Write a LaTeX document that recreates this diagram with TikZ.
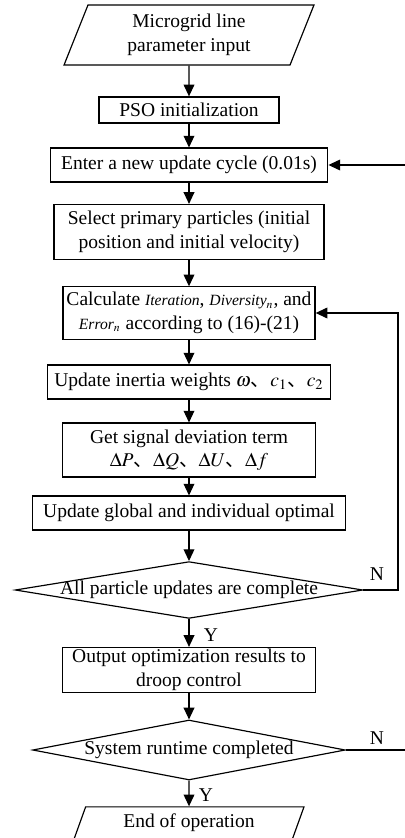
\documentclass[tikz,border=0pt]{standalone}
\usepackage{mathptmx}
\usepackage{fontspec}
\setmainfont{Liberation Serif}
\newfontfamily\cjk{Noto Sans CJK SC}
\usetikzlibrary{shapes.geometric, arrows.meta}

\begin{document}
\begin{tikzpicture}[x=0.018cm, y=-0.018cm, line width=0.6pt,
          every node/.style={font=\normalsize},
          proc/.style={draw, rectangle, align=center, inner sep=1pt},
          io/.style={draw, trapezium, trapezium left angle=62,
                     trapezium right angle=118, trapezium stretches body,
                     align=center, inner sep=1pt},
          decide/.style={draw, diamond, aspect=6, inner xsep=0pt,
                         inner ysep=-1pt},
          flow/.style={-{Triangle[length=6pt, width=5.5pt]}},
          lab/.style={inner sep=0pt}]
        % Flow chart: one column of steps on x=189, two loops back on the right.
        % Coordinates: (x, y) in pixels of the 404x838 page, y grows downward.
        \useasboundingbox (0,0) rectangle (404,838);
        \node[io, minimum width=4.5cm, minimum height=1.08cm] (input) at (189,35)
          {Microgrid line\\parameter input};
        \node[proc, minimum width=3.24cm, minimum height=0.47cm] (pso) at (189,110)
          {PSO initialization};
        \node[proc, minimum width=5.0cm, minimum height=0.61cm] (cycle) at (189,165)
          {Enter a new update cycle (0.01s)};
        \node[proc, minimum width=4.86cm, minimum height=0.99cm] (select) at (189,232)
          {Select primary particles (initial\\position and initial velocity)};
        \node[proc, minimum width=4.54cm, minimum height=0.94cm] (calc) at (189,313)
          {Calculate {\footnotesize\itshape Iteration}, {\footnotesize\itshape Diversity$_n$}, and\\
           {\footnotesize\itshape Error$_n$} according to (16)-(21)};
        \node[proc, minimum width=5.11cm, minimum height=0.61cm] (inertia) at (189,382)
          {Update inertia weights $\omega$\cjk{、}$c_1$\cjk{、}$c_2$};
        \node[proc, minimum width=4.57cm, minimum height=0.97cm] (signal) at (189,450)
          {Get signal deviation term\\
           $\Delta P$\cjk{、}$\Delta Q$\cjk{、}$\Delta U$\cjk{、}$\Delta f$};
        \node[proc, minimum width=5.65cm, minimum height=0.61cm] (global) at (189,513)
          {Update global and individual optimal};
        \node[decide, minimum width=6.26cm, minimum height=1.01cm] (dec1) at (189,590)
          {All particle updates are complete};
        \node[proc, minimum width=4.57cm, minimum height=0.81cm] (output) at (189,670)
          {Output optimization results to\\droop control};
        \node[decide, minimum width=5.63cm, minimum height=1.08cm] (dec2) at (189,750)
          {System runtime completed};
        \node[io, minimum width=4.14cm, minimum height=0.58cm] (stop) at (189,823)
          {End of operation};
        % branch labels
        \node[lab] (yes1) at (211,635) {Y};
        \node[lab] (yes2) at (206,795) {Y};
        \node[lab] (no1) at (377,574) {N};
        \node[lab] (no2) at (377,738) {N};
        % main column
        \foreach \a/\b in {input/pso, pso/cycle, cycle/select, select/calc,
            calc/inertia, inertia/signal, signal/global, global/dec1,
            dec1/output, output/dec2, dec2/stop} {
          \draw[flow] (\a) -- (\b);
        }
        % loops back (the outer one runs past the page edge)
        \coordinate (rightA) at (398,0);
        \coordinate (rightB) at (412,0);
        \draw[flow] (dec1.east) -| (rightA |- calc.east) -- (calc.east);
        \draw[flow] (dec2.east) -| (rightB |- cycle.east) -- (cycle.east);
      \end{tikzpicture}
\end{document}
